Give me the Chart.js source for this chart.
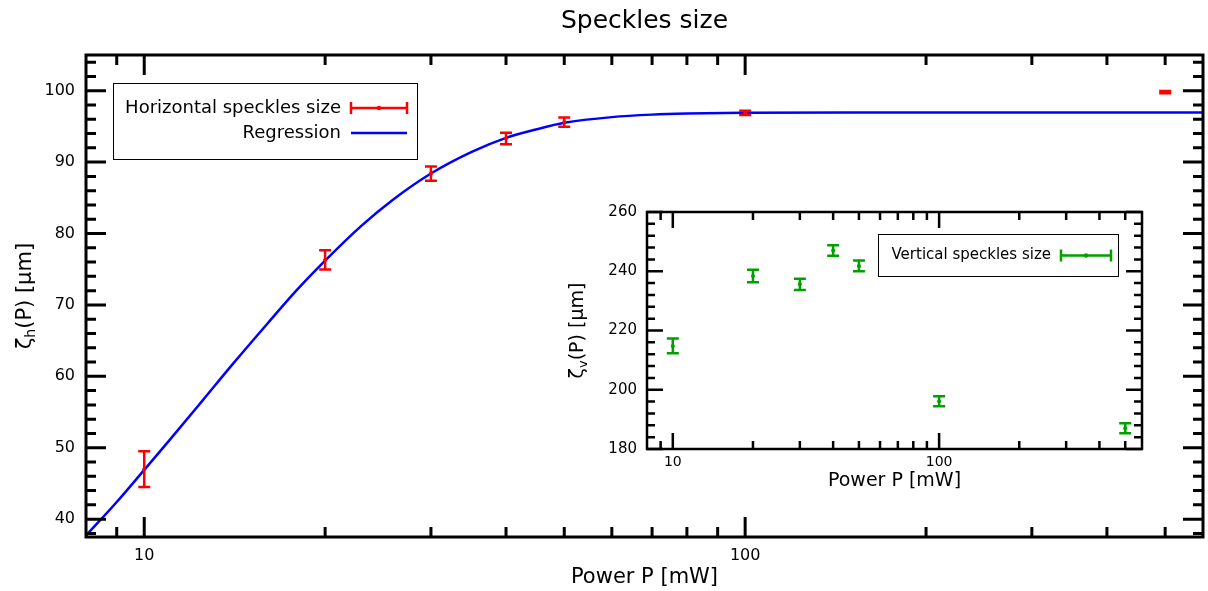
<!DOCTYPE html>
<html lang="en">
<head>
<meta charset="UTF-8">
<title>Speckles size</title>
<script src="https://cdn.jsdelivr.net/npm/chart.js@4.4.1/dist/chart.umd.min.js"></script>
<style>
    body { margin: 0; background: #fff; }
    #wrap { position: relative; width: 1208px; height: 591px; }
    #main { position: absolute; left: 0; top: 0; }
    #inset { position: absolute; left: 545px; top: 190px; }
</style>
</head>
<body>
<div id="wrap">
    <canvas id="main" width="1208" height="591"></canvas>
    <canvas id="inset" width="610" height="310"></canvas>
</div>

<script>
// horizontal speckles (main plot)
const powerH = [10, 20, 30, 40, 50, 100, 500];
const sizeH  = [47.0, 76.3, 88.4, 93.3, 95.6, 96.9, 99.8];
const errH   = [2.5, 1.35, 1.0, 0.8, 0.65, 0.3, 0.15];

// regression curve
const fitPower = [8, 9, 10, 11, 12.5, 14, 16, 18, 20, 23, 26, 30, 35, 40, 45, 50, 60, 70, 80, 100, 150, 200, 300, 578];
const fitSize  = [37.7, 42.4, 46.9, 51.0, 56.6, 61.6, 67.3, 72.2, 76.2, 81.1, 84.8, 88.4, 91.4, 93.4, 94.6, 95.5, 96.3, 96.65, 96.8, 96.9, 96.95, 96.95, 96.95, 96.95];

// vertical speckles (inset)
const powerV = [10, 20, 30, 40, 50, 100, 500];
const sizeV  = [214.8, 238.4, 235.6, 247.0, 241.8, 196.1, 187.0];
const errV   = [2.5, 2.1, 1.9, 1.8, 1.8, 1.7, 1.7];

// ticks
const xMajor = [10, 100];
const xMinor = [9, 20, 30, 40, 50, 60, 70, 80, 90, 200, 300, 400, 500];
const yMajorH = [40, 50, 60, 70, 80, 90, 100];
const yMinorH = [38, 42, 44, 46, 48, 52, 54, 56, 58, 62, 64, 66, 68, 72, 74, 76, 78, 82, 84, 86, 88, 92, 94, 96, 98, 102, 104];
const yMajorV = [180, 200, 220, 240, 260];
const yMinorV = [184, 188, 192, 196, 204, 208, 212, 216, 224, 228, 232, 236, 244, 248, 252, 256];

const FONT = "'DejaVu Sans', sans-serif";
Chart.defaults.font.family = FONT;
Chart.defaults.color = '#000';

const toPoints = (xs, ys) => xs.map((x, i) => ({ x: x, y: ys[i] }));

const errorBarPlugin = {
    id: 'errorBars',
    afterDatasetsDraw(chart) {
        const { ctx, scales: { x, y } } = chart;
        chart.data.datasets.forEach(ds => {
            if (!ds.yErr) return;
            ctx.save();
            ctx.strokeStyle = ds.borderColor;
            ctx.lineWidth = 2.5;
            ds.data.forEach((p, j) => {
                const px = x.getPixelForValue(p.x);
                const lo = y.getPixelForValue(p.y - ds.yErr[j]);
                const hi = y.getPixelForValue(p.y + ds.yErr[j]);
                const c = ds.capHalf;
                ctx.beginPath();
                ctx.moveTo(px, lo); ctx.lineTo(px, hi);
                ctx.moveTo(px - c, lo); ctx.lineTo(px + c, lo);
                ctx.moveTo(px - c, hi); ctx.lineTo(px + c, hi);
                ctx.stroke();
            });
            ctx.restore();
        });
    }
};

// frame with inward ticks on all four sides
const framePlugin = {
    id: 'frame',
    afterDatasetsDraw(chart, args, o) {
        const { ctx, chartArea: a, scales: { x, y } } = chart;
        ctx.save();
        ctx.strokeStyle = '#000';
        ctx.lineWidth = o.lineWidth;
        ctx.beginPath();
        const tickX = (v, len) => {
            const px = x.getPixelForValue(v);
            ctx.moveTo(px, a.bottom); ctx.lineTo(px, a.bottom - len);
            ctx.moveTo(px, a.top); ctx.lineTo(px, a.top + len);
        };
        const tickY = (v, len) => {
            const py = y.getPixelForValue(v);
            ctx.moveTo(a.left, py); ctx.lineTo(a.left + len, py);
            ctx.moveTo(a.right, py); ctx.lineTo(a.right - len, py);
        };
        o.xMajor.forEach(v => tickX(v, o.major));
        o.xMinor.forEach(v => tickX(v, o.minor));
        o.yMajor.forEach(v => tickY(v, o.major));
        o.yMinor.forEach(v => tickY(v, o.minor));
        ctx.stroke();
        ctx.strokeRect(a.left, a.top, a.right - a.left, a.bottom - a.top);
        ctx.restore();
    }
};

const boxLegendPlugin = {
    id: 'boxLegend',
    afterDraw(chart, args, o) {
        const { ctx, chartArea: a } = chart;
        ctx.save();
        ctx.fillStyle = '#fff';
        ctx.fillRect(a.left + o.left, a.top + o.top, o.width, o.height);
        ctx.strokeStyle = '#000';
        ctx.lineWidth = 1;
        ctx.strokeRect(a.left + o.left, a.top + o.top, o.width, o.height);
        ctx.font = o.size + 'px ' + FONT;
        ctx.textAlign = 'right';
        ctx.textBaseline = 'middle';
        o.items.forEach(it => {
            const yy = a.top + it.y;
            ctx.fillStyle = '#000';
            ctx.fillText(it.text, a.left + it.tx, yy);
            const x1 = a.left + it.x1, x2 = a.left + it.x2;
            ctx.strokeStyle = it.color;
            ctx.lineWidth = 2.5;
            ctx.beginPath();
            ctx.moveTo(x1, yy); ctx.lineTo(x2, yy);
            if (it.kind === 'err') {
                ctx.moveTo(x1, yy - 6); ctx.lineTo(x1, yy + 6);
                ctx.moveTo(x2, yy - 6); ctx.lineTo(x2, yy + 6);
            }
            ctx.stroke();
            if (it.kind === 'err') {
                ctx.fillStyle = it.color;
                ctx.beginPath();
                ctx.arc((x1 + x2) / 2, yy, 2.2, 0, Math.PI * 2);
                ctx.fill();
            }
        });
        ctx.restore();
    }
};

// title and axis titles, centred on the plot area; y title has a subscript
const axisTitlePlugin = {
    id: 'axisTitles',
    afterDraw(chart, args, o) {
        const { ctx, chartArea: a } = chart;
        const cx = (a.left + a.right) / 2;
        ctx.save();
        ctx.fillStyle = '#000';
        ctx.textAlign = 'center';
        ctx.textBaseline = 'middle';
        if (o.title) {
            ctx.font = o.titleSize + 'px ' + FONT;
            ctx.fillText(o.title, cx, o.titleY);
        }
        ctx.font = o.size + 'px ' + FONT;
        ctx.fillText(o.xText, cx, o.xTitleY);

        const big = o.size + 'px ' + FONT;
        const small = Math.round(o.size * 0.68) + 'px ' + FONT;
        ctx.font = big;
        const w1 = ctx.measureText(o.yParts[0]).width;
        const w3 = ctx.measureText(o.yParts[2]).width;
        ctx.font = small;
        const w2 = ctx.measureText(o.yParts[1]).width;
        ctx.translate(o.yTitleX, (a.top + a.bottom) / 2);
        ctx.rotate(-Math.PI / 2);
        ctx.textAlign = 'left';
        ctx.textBaseline = 'alphabetic';
        const x0 = -(w1 + w2 + w3) / 2;
        const base = o.size * 0.36;
        ctx.font = big;
        ctx.fillText(o.yParts[0], x0, base);
        ctx.font = small;
        ctx.fillText(o.yParts[1], x0 + w1, base + o.size * 0.22);
        ctx.font = big;
        ctx.fillText(o.yParts[2], x0 + w1 + w2, base);
        ctx.restore();
    }
};

const noGrid = { display: false, drawTicks: false };

new Chart(document.getElementById('main'), {
    type: 'scatter',
    data: {
        datasets: [
            {
                label: 'Horizontal speckles size',
                data: toPoints(powerH, sizeH),
                yErr: errH,
                capHalf: 6,
                borderColor: '#ff0000',
                backgroundColor: '#ff0000',
                pointRadius: 2,
                pointBorderWidth: 0
            },
            {
                label: 'Regression',
                type: 'line',
                data: toPoints(fitPower, fitSize),
                borderColor: '#0000ff',
                borderWidth: 2.5,
                pointRadius: 0,
                cubicInterpolationMode: 'monotone',
                fill: false
            }
        ]
    },
    options: {
        responsive: false,
        animation: false,
        events: [],
        layout: { padding: { left: 0, right: 5, top: 55, bottom: 0 } },
        plugins: {
            legend: { display: false },
            tooltip: { enabled: false },
            title: { display: false },
            frame: { lineWidth: 3, major: 20, minor: 10, xMajor: xMajor, xMinor: xMinor, yMajor: yMajorH, yMinor: yMinorH },
            boxLegend: {
                left: 27.5, top: 28.5, width: 304, height: 76, size: 18,
                items: [
                    { text: 'Horizontal speckles size', tx: 255, y: 53, x1: 265, x2: 321, kind: 'err', color: '#ff0000' },
                    { text: 'Regression', tx: 255, y: 78, x1: 265, x2: 321, kind: 'line', color: '#0000ff' }
                ]
            },
            axisTitles: {
                title: 'Speckles size', titleSize: 25, titleY: 21,
                size: 21, xText: 'Power P [mW]', xTitleY: 578, yTitleX: 23, yParts: ['ζ', 'h', '(P) [µm]']
            }
        },
        scales: {
            x: {
                type: 'logarithmic',
                min: 8, max: 578,
                grid: noGrid,
                border: { display: false },
                ticks: { font: { size: 16 }, padding: 9, autoSkip: false, maxRotation: 0, callback: v => String(v) },
                afterBuildTicks: s => { s.ticks = xMajor.map(v => ({ value: v })); },
                afterFit: s => { s.height = 54; }
            },
            y: {
                min: 37.5, max: 105,
                grid: noGrid,
                border: { display: false },
                ticks: { font: { size: 16 }, padding: 11, callback: v => String(v) },
                afterBuildTicks: s => { s.ticks = yMajorH.map(v => ({ value: v })); },
                afterFit: s => { s.width = 86; }
            }
        }
    },
    plugins: [errorBarPlugin, framePlugin, boxLegendPlugin, axisTitlePlugin]
});

new Chart(document.getElementById('inset'), {
    type: 'scatter',
    data: {
        datasets: [
            {
                label: 'Vertical speckles size',
                data: toPoints(powerV, sizeV),
                yErr: errV,
                capHalf: 6,
                borderColor: '#00a000',
                backgroundColor: '#00a000',
                pointRadius: 2,
                pointBorderWidth: 0
            }
        ]
    },
    options: {
        responsive: false,
        animation: false,
        events: [],
        layout: { padding: { left: 0, right: 13, top: 22, bottom: 0 } },
        plugins: {
            legend: { display: false },
            tooltip: { enabled: false },
            frame: { lineWidth: 2.5, major: 16, minor: 8, xMajor: xMajor, xMinor: xMinor, yMajor: yMajorV, yMinor: yMinorV },
            boxLegend: {
                left: 231.5, top: 22.5, width: 240, height: 42, size: 15,
                items: [
                    { text: 'Vertical speckles size', tx: 404, y: 43.5, x1: 414, x2: 464, kind: 'err', color: '#00a000' }
                ]
            },
            axisTitles: { size: 19, xText: 'Power P [mW]', xTitleY: 291, yTitleX: 31, yParts: ['ζ', 'v', '(P) [µm]'] }
        },
        scales: {
            x: {
                type: 'logarithmic',
                min: 8, max: 578,
                grid: noGrid,
                border: { display: false },
                ticks: { font: { size: 14 }, padding: 5, autoSkip: false, maxRotation: 0, callback: v => String(v) },
                afterBuildTicks: s => { s.ticks = xMajor.map(v => ({ value: v })); },
                afterFit: s => { s.height = 51; }
            },
            y: {
                min: 180, max: 260,
                grid: noGrid,
                border: { display: false },
                ticks: { font: { size: 15 }, padding: 10, callback: v => String(v) },
                afterBuildTicks: s => { s.ticks = yMajorV.map(v => ({ value: v })); },
                afterFit: s => { s.width = 102; }
            }
        }
    },
    plugins: [errorBarPlugin, framePlugin, boxLegendPlugin, axisTitlePlugin]
});
</script>
</body>
</html>
